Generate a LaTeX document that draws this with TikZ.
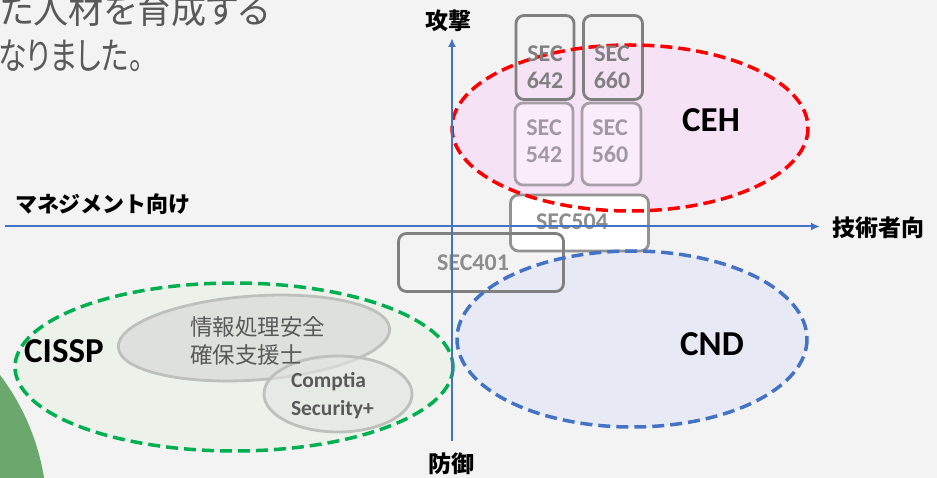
\documentclass[tikz,border=0pt]{standalone}
\usepackage{fontspec}
\setmainfont{Carlito}
\newfontfamily\jp{Noto Sans CJK JP}
\newfontfamily\jpp[RawFeature={+palt}]{Noto Sans CJK JP}
\usetikzlibrary{shapes.geometric,arrows.meta}
\definecolor{bg}{RGB}{243,243,243}
\definecolor{blob}{RGB}{106,168,110}
\definecolor{txtgray}{RGB}{89,89,89}
\definecolor{cehfill}{RGB}{245,227,245}
\definecolor{cndfill}{RGB}{231,234,244}
\definecolor{cisfill}{RGB}{236,241,234}
\definecolor{ipafill}{RGB}{221,224,219}
\definecolor{compfill}{RGB}{227,230,225}
\definecolor{ringgray}{RGB}{190,192,188}
\definecolor{cehred}{RGB}{255,0,0}
\definecolor{cndblue}{RGB}{68,114,196}
\definecolor{cisgreen}{RGB}{0,176,80}
\definecolor{axisblue}{RGB}{68,114,196}
\definecolor{boxgray}{RGB}{128,128,128}
\definecolor{boxlight}{RGB}{168,158,168}
\definecolor{pinkbox}{RGB}{250,236,250}
\definecolor{sectxt}{RGB}{128,128,128}
\definecolor{sectxtlight}{RGB}{160,152,162}
\begin{document}
\begin{tikzpicture}[x=1pt,y=-1pt,
  every node/.style={inner sep=0pt,outer sep=0pt},
  ringfill/.style={ellipse,draw=none},
  dashring/.style={line width=3.5pt,dash pattern=on 12pt off 6pt},
  subring/.style={ellipse,draw=ringgray,line width=2.8pt},
  secbox/.style={draw=boxgray,line width=2.8pt,rounded corners=8pt},
  seclight/.style={draw=boxlight,fill=pinkbox,line width=2.8pt,rounded corners=8pt},
  sectext/.style={text=sectxt,font=\bfseries\fontsize{24}{27}\selectfont,align=center},
  bigtext/.style={text=black,font=\bfseries\fontsize{35}{35}\selectfont},
  axlabel/.style={text=black,font=\jp\bfseries\fontsize{23}{23}\selectfont},
  axisline/.style={draw=axisblue,line width=2pt,-{Latex[length=9pt,width=8pt]}},
  toptext/.style={text=txtgray,font=\jpp\fontsize{37}{37}\selectfont}
]
\fill[bg] (0,0) rectangle (937,478);
\useasboundingbox (0,0) rectangle (937,478);
\clip (0,0) rectangle (937,478);
\fill[blob] (-185,515) circle (232);
% top text
\node[toptext,anchor=base east] (t1) at (270,24) {\scalebox{0.95}[1]{た人材を育成する}};
\node[toptext,anchor=base west] (t2) at (-2,70) {\scalebox{0.78}[1]{なりました。}};
% ellipse fills
\node[ringfill,fill=cehfill,minimum width=356,minimum height=166] (ceh) at (630,128) {};
\node[ringfill,fill=cndfill,minimum width=350,minimum height=176] (cnd) at (632,339) {};
\node[ringfill,fill=cisfill,minimum width=438,minimum height=168] (cis) at (234,367) {};
% inner ellipses
\node[subring,fill=ipafill,minimum width=272,minimum height=84,rotate=4] (ipa) at (254,338) {};
\node[subring,fill=compfill,fill opacity=0.6,minimum width=148,minimum height=76] (comp) at (338,394) {};
% boxes
\node[secbox,minimum width=58,minimum height=84] (s642) at (545,57.5) {};
\node[secbox,minimum width=59,minimum height=84] (s660) at (613,57.5) {};
\node[seclight,minimum width=58,minimum height=82] (s542) at (544,144) {};
\node[seclight,minimum width=59,minimum height=82] (s560) at (611.5,144) {};
\node[secbox,draw=boxgray!85,fill=white,minimum width=138,minimum height=56] (s504) at (579.5,223) {};
\node[secbox,minimum width=165,minimum height=58] (s401) at (481,262.5) {};
% dashed borders
\draw[dashring,draw=cehred] (ceh.center) ellipse [x radius=178,y radius=83];
\draw[dashring,draw=cndblue] (cnd.center) ellipse [x radius=175,y radius=88];
\draw[dashring,draw=cisgreen] (cis.center) ellipse [x radius=219,y radius=84];
% texts
\node[sectext] (l642) at (545,67) {SEC\\642};
\node[sectext] (l660) at (612,67) {SEC\\660};
\node[sectext,text=sectxtlight] (l542) at (544,141) {SEC\\542};
\node[sectext,text=sectxtlight] (l560) at (610,141) {SEC\\560};
\node[sectext,text=sectxt!90] (l504) at (572,222) {SEC504};
\node[sectext,text=sectxt!90] (l401) at (473,263) {SEC401};
\node[bigtext] (lceh) at (711,120) {CEH};
\node[bigtext] (lcnd) at (712,344) {CND};
\node[bigtext] (lcis) at (64,351) {CISSP};
\node[anchor=west,align=left,text=txtgray,font=\jp\fontsize{22.5}{27.5}\selectfont] (lipa) at (190,341) {情報処理安全\\確保支援士};
\node[anchor=west,align=left,text=txtgray,font=\bfseries\fontsize{21.5}{28}\selectfont] (lcomp) at (291,396) {Comptia\\Security+};
% axes
\coordinate (hs) at (5,226.5);
\coordinate (he) at (820,226.5);
\coordinate (vs) at (452,441);
\coordinate (ve) at (452,38);
\draw[axisline] (hs) -- (he);
\draw[axisline] (vs) -- (ve);
\node[axlabel] (atk) at (448,21) {攻撃};
\node[axlabel] (def) at (451,464) {防御};
\node[axlabel] (tech) at (878,228) {技術者向};
\node[axlabel,anchor=west,font=\jp\bfseries\fontsize{22}{22}\selectfont] (mgmt) at (15,204) {マネジメント向け};
\end{tikzpicture}
\end{document}
